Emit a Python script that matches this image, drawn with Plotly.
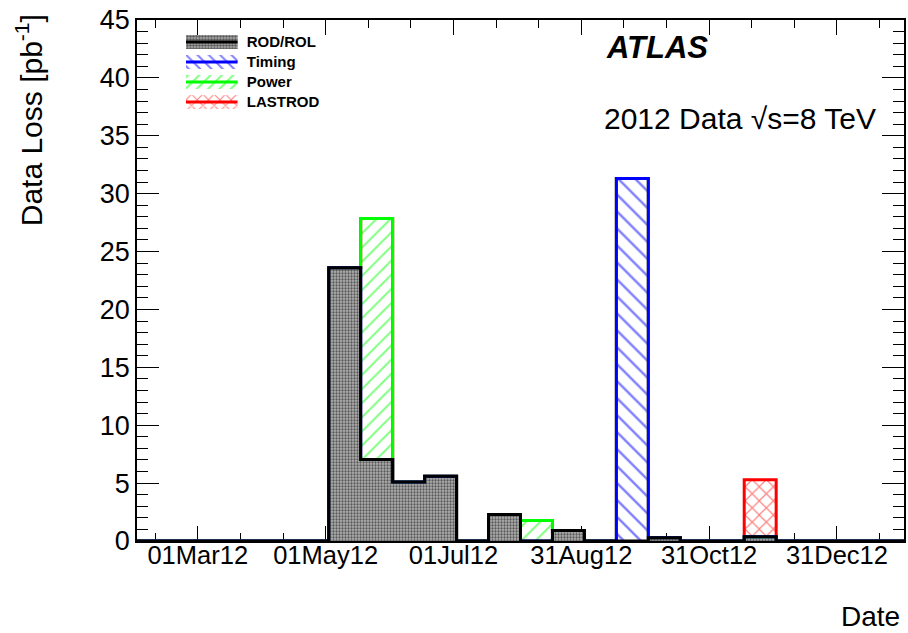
import plotly.graph_objects as go
import pandas as pd
import numpy as np

# ---------------- data ----------------
series_names = ["ROD/ROL", "Timing", "Power", "LASTROD"]
hist_start = "2012-02-01"
n_bins = 24
bin_days = 15.25

rod_rol = [0, 0, 0, 0, 0, 0, 23.6, 7.05, 5.09, 5.6, 0, 2.29,
           0, 0.91, 0, 0, 0.28, 0, 0, 0.36, 0, 0, 0, 0]
timing = [0, 0, 0, 0, 0, 0, 0, 0, 0, 0, 0, 0,
          0, 0, 0, 31.3, 0, 0, 0, 0, 0, 0, 0, 0]
power = [0, 0, 0, 0, 0, 0, 0, 20.8, 0, 0, 0, 0,
         1.77, 0, 0, 0, 0, 0, 0, 0, 0, 0, 0, 0]
lastrod = [0, 0, 0, 0, 0, 0, 0, 0, 0, 0, 0, 0,
           0, 0, 0, 0, 0, 0, 0, 4.93, 0, 0, 0, 0]

tick_dates = ["2012-03-01", "2012-05-01", "2012-07-01", "2012-08-31", "2012-10-31", "2012-12-31"]
tick_labels = ["01Mar12", "01May12", "01Jul12", "31Aug12", "31Oct12", "31Dec12"]
y_ticks = [0, 5, 10, 15, 20, 25, 30, 35, 40, 45]

colors = {"ROD/ROL": "#000000", "Timing": "#0000ff", "Power": "#00ff00", "LASTROD": "#ff0000"}

# ---------------- derived ----------------
t0 = pd.Timestamp(hist_start)
edges = [t0 + pd.Timedelta(days=bin_days * k) for k in range(n_bins + 1)]
centers = [t0 + pd.Timedelta(days=bin_days * (k + 0.5)) for k in range(n_bins)]
width_ms = bin_days * 86400000.0

maj = [pd.Timestamp(d) for d in tick_dates]
step = (maj[1] - maj[0]) / 3
minor_vals = []
for m in maj:
    minor_vals += [m - step, m + step, m - 2 * step, m + 2 * step]
minor_vals = sorted(set(minor_vals) - set(maj))
minor_vals = [v for v in minor_vals if edges[0] < v < edges[-1]]

vals = {"ROD/ROL": rod_rol, "Timing": timing, "Power": power, "LASTROD": lastrod}
patterns = {
    "ROD/ROL": dict(shape=".", fgcolor="#000000", bgcolor="#b0b0b0", size=3, solidity=0.45),
    "Timing": dict(shape="\\", fgcolor="#0000ff", bgcolor="#ffffff", size=12, solidity=0.2),
    "Power": dict(shape="/", fgcolor="#00ff00", bgcolor="#ffffff", size=10, solidity=0.2),
    "LASTROD": dict(shape="x", fgcolor="#ff0000", bgcolor="#ffffff", size=10, solidity=0.22),
}

fig = go.Figure()

for name in series_names:
    fig.add_trace(go.Bar(
        x=centers, y=vals[name], width=width_ms, name=name,
        marker=dict(color="#ffffff", pattern=patterns[name], line=dict(width=0)),
        showlegend=False, xaxis="x", yaxis="y",
    ))

# outlines: step lines of cumulative sums, drawn top level first
cum = np.zeros(n_bins)
cums = {}
for name in series_names:
    cum = cum + np.array(vals[name])
    cums[name] = cum.copy()

for name in reversed(series_names):
    yv = list(cums[name]) + [cums[name][-1]]
    fig.add_trace(go.Scatter(
        x=edges, y=yv, mode="lines", line=dict(color=colors[name], width=3, shape="hv"),
        showlegend=False, hoverinfo="skip", xaxis="x", yaxis="y",
    ))

# ROOT-style legend drawn in a small inset subplot (box with fill + centre line)
fig.add_trace(go.Bar(
    y=series_names, x=[1] * len(series_names), orientation="h", width=0.68,
    marker=dict(color="#ffffff", pattern=dict(
        shape=[patterns[n]["shape"] for n in series_names],
        fgcolor=[patterns[n]["fgcolor"] for n in series_names],
        bgcolor=[patterns[n]["bgcolor"] for n in series_names],
        size=[3, 8, 8, 8], solidity=[0.5, 0.25, 0.25, 0.25]),
        line=dict(width=0)),
    showlegend=False, hoverinfo="skip", xaxis="x2", yaxis="y2",
))
for name in series_names:
    fig.add_trace(go.Scatter(
        x=[0, 1], y=[name, name], mode="lines", line=dict(color=colors[name], width=3),
        showlegend=False, hoverinfo="skip", xaxis="x2", yaxis="y2",
    ))

font_family = "Liberation Sans, Arial, Helvetica, sans-serif"
H = 520.5

fig.update_layout(
    width=908, height=633,
    margin=dict(l=137, r=2, t=20, b=92),
    paper_bgcolor="white", plot_bgcolor="rgba(0,0,0,0)",
    barmode="stack", bargap=0,
    font=dict(family=font_family, color="black"),
    showlegend=False,
    xaxis=dict(
        type="date",
        range=[edges[0], edges[-1]],
        tickmode="array", tickvals=tick_dates, ticktext=tick_labels,
        ticks="inside", ticklen=15, tickwidth=1, tickcolor="black",
        minor=dict(tickmode="array", tickvals=minor_vals, ticks="inside", ticklen=8,
                   tickwidth=1, tickcolor="black"),
        showline=True, linecolor="black", linewidth=1.5, mirror="ticks",
        showgrid=False, zeroline=False,
        tickfont=dict(size=25.5, family=font_family),
        ticklabelstandoff=-9,
        layer="below traces",
    ),
    yaxis=dict(
        range=[0, 45],
        tickmode="array", tickvals=y_ticks,
        ticks="inside", ticklen=22, tickwidth=1, tickcolor="black",
        minor=dict(dtick=1, ticks="inside", ticklen=11, tickwidth=1, tickcolor="black"),
        showline=True, linecolor="black", linewidth=1.5, mirror="ticks",
        showgrid=False, zeroline=False,
        tickfont=dict(size=27, family=font_family),
        layer="below traces",
    ),
    xaxis2=dict(
        domain=[(186 - 137) / 769, (238 - 137) / 769], anchor="y2", range=[0, 1],
        visible=False, fixedrange=True,
    ),
    yaxis2=dict(
        domain=[1 - (112 - 20) / H, 1 - (32 - 20) / H], anchor="x2", side="right",
        type="category", categoryorder="array", categoryarray=series_names,
        autorange="reversed", showline=False, showgrid=False, zeroline=False,
        ticks="", showticklabels=True, ticklabelstandoff=8,
        tickfont=dict(size=15, family="Liberation Sans, Arial", weight="bold"),
        fixedrange=True,
    ),
    annotations=[
        dict(text="<b><i>ATLAS</i></b>", x=(605 - 137) / 769, y=1 - (47 - 20) / H,
             xref="paper", yref="paper", xanchor="left", yanchor="middle",
             showarrow=False, font=dict(size=31, family=font_family)),
        dict(text="2012 Data \u221as=8 TeV", x=(603 - 137) / 769, y=1 - (118 - 20) / H,
             xref="paper", yref="paper", xanchor="left", yanchor="middle",
             showarrow=False, font=dict(size=30, family=font_family)),
        dict(text="Data Loss [pb<sup>-1</sup>]", x=(29 - 137) / 769, y=1 + (20 - 12) / H,
             xref="paper", yref="paper", xanchor="center", yanchor="top", textangle=-90,
             showarrow=False, font=dict(size=30, family=font_family)),
        dict(text="Date", x=(904 - 137) / 769, y=-(616 - 540.5) / H,
             xref="paper", yref="paper", xanchor="right", yanchor="middle",
             showarrow=False, font=dict(size=28, family=font_family)),
    ],
)

fig.write_html("out.html", config={"displayModeBar": False},
               post_script="document.body.style.margin='0px';document.body.style.padding='0px';")
